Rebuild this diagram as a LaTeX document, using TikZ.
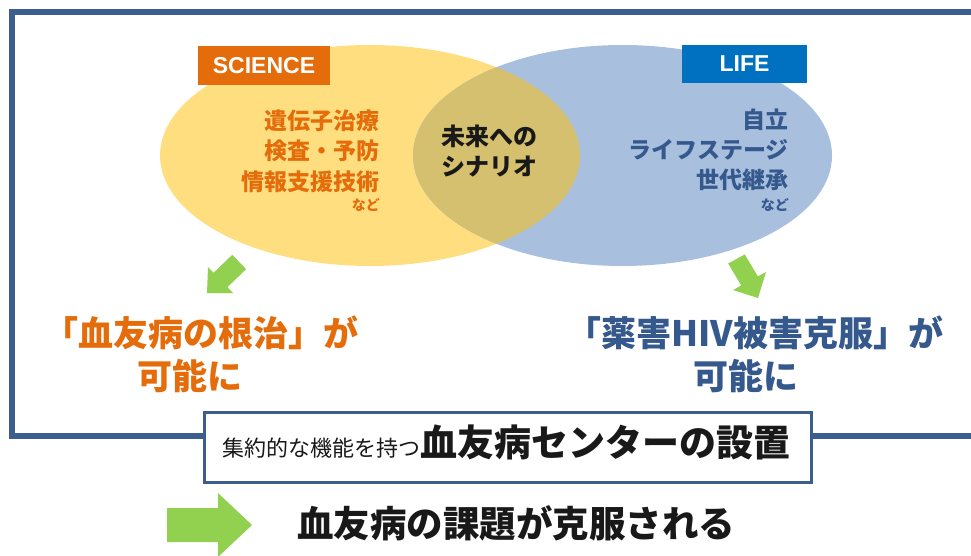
\documentclass[tikz,border=0pt]{standalone}
\usepackage{fontspec}
\setmainfont{Noto Sans CJK JP}
\newfontfamily\labfont{Liberation Sans}
\newcommand\myfs[1]{\fontsize{#1}{#1}\selectfont}
\definecolor{frameblue}{HTML}{3B5E8C}
\definecolor{sciyellow}{HTML}{FFDE80}
\definecolor{lifeblue}{HTML}{A8C0DE}
\definecolor{overlapc}{HTML}{D4C06E}
\definecolor{sciorange}{HTML}{E46C0A}
\definecolor{lifebox}{HTML}{0070C0}
\definecolor{lifetext}{HTML}{35598D}
\definecolor{arrowgreen}{HTML}{92D050}
\begin{document}
\begin{tikzpicture}[x=1pt,y=-1pt,
  tag/.style={inner sep=0pt, text=white, font=\labfont\bfseries\myfs{23}},
  scitext/.style={inner sep=0pt, anchor=base east, text=sciorange, font=\bfseries\myfs{23}},
  lifetxt/.style={inner sep=0pt, anchor=base east, text=lifetext, font=\bfseries\myfs{23}},
  smalltxt/.style={inner sep=0pt, anchor=base east, font=\bfseries\myfs{14}},
  midtxt/.style={inner sep=0pt, anchor=base, text=black!90, font=\bfseries\myfs{24}},
  bigtxt/.style={inner sep=0pt, anchor=base, font=\bfseries\myfs{35}},
  greenarrow/.style={fill=arrowgreen}]
\useasboundingbox (0,0) rectangle (971,556);
\clip (0,0) rectangle (971,556);
\fill[white] (0,0) rectangle (971,556);
% outer frame
\draw[frameblue, line width=6.5pt] (990,12) -- (12,12) -- (12,436) -- (990,436);
% ellipses
\fill[sciyellow] (370,155.5) ellipse [x radius=210, y radius=110.5];
\fill[lifeblue] (622.5,155.5) ellipse [x radius=209.5, y radius=110.5];
\begin{scope}
  \clip (370,155.5) ellipse [x radius=210, y radius=110.5];
  \fill[overlapc] (622.5,155.5) ellipse [x radius=209.5, y radius=110.5];
\end{scope}
% tags
\node[tag, fill=sciorange, minimum width=132pt, minimum height=39pt] (science) at (264,65.5) {SCIENCE};
\node[tag, fill=lifebox, minimum width=125pt, minimum height=38pt] (life) at (744.5,64) {LIFE};
% science texts
\node[scitext] (s1) at (380,130) {遺伝子治療};
\node[scitext] (s2) at (380,160) {検査・予防};
\node[scitext] (s3) at (380,190) {情報支援技術};
\node[smalltxt, text=sciorange] (s4) at (380,210) {など};
% middle
\node[midtxt] (m1) at (489,146) {未来への};
\node[midtxt] (m2) at (489,176) {シナリオ};
% life texts
\node[lifetxt] (l1) at (789,129) {自立};
\node[lifetxt] (l2) at (789,159) {ライフステージ};
\node[lifetxt] (l3) at (789,189) {世代継承};
\node[smalltxt, text=lifetext] (l4) at (789,210) {など};
% green arrows
\fill[greenarrow] (232.3,254.8) -- (213.6,272.8) -- (208,267) -- (207,293) -- (233,293) -- (227.4,287.2) -- (246.1,269.2) -- cycle;
\fill[greenarrow] (728.2,263.5) -- (741.2,285.5) -- (733,290) -- (758,298) -- (766,272) -- (757.8,276.4) -- (744.8,254.4) -- cycle;
% results
\node[bigtxt, text=sciorange] (r1) at (201,346) {「血友病の根治」が};
\node[bigtxt, text=sciorange] (r2) at (190,389) {可能に};
\node[bigtxt, text=lifetext] (r3) at (755,346) {「薬害HIV被害克服」が};
\node[bigtxt, text=lifetext] (r4) at (746,389) {可能に};
% center box
\node[draw=frameblue, line width=3pt, fill=white, minimum width=606.5pt, minimum height=70pt, inner sep=0pt] (centerbox) at (507.75,447) {};
\node[inner sep=0pt, anchor=base, text=black!90] (boxtext) at (506,456) {{\myfs{22}集約的な機能を持つ}{\bfseries\myfs{37}血友病センターの設置}};
% final arrow and text
\fill[greenarrow] (167,508) -- (218,508) -- (218,493) -- (252,525) -- (218,557) -- (218,542) -- (167,542) -- cycle;
\node[bigtxt, text=black!90, font=\bfseries\myfs{36.5}] (result) at (516,537) {血友病の課題が克服される};
\end{tikzpicture}
\end{document}
